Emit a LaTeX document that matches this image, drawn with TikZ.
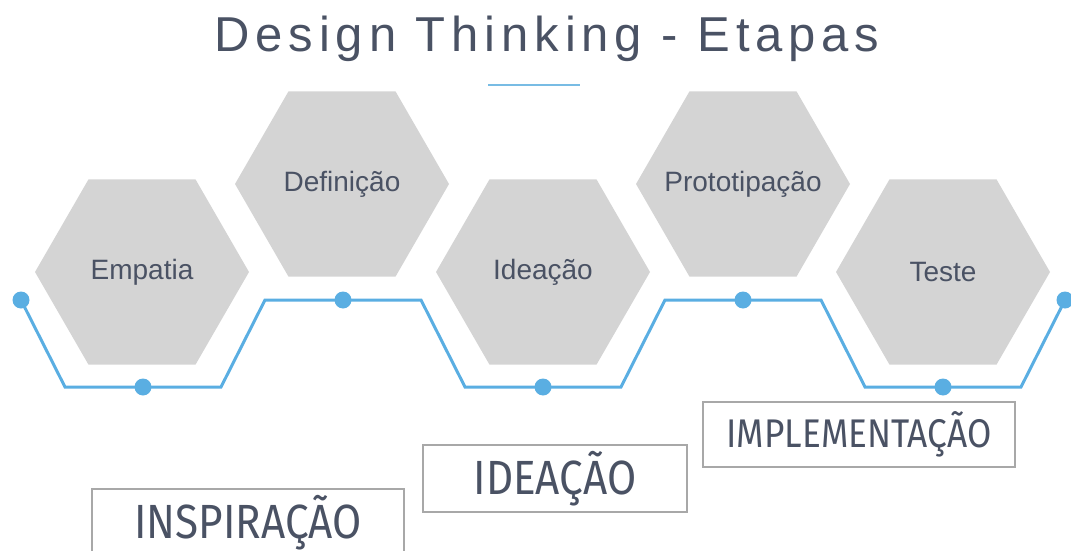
\documentclass[tikz,border=0pt]{standalone}
\usepackage{fontspec}
\setmainfont{Liberation Sans}
\newfontfamily\titlefont[LetterSpace=12]{Liberation Sans}
\newfontfamily\stagefont[FakeStretch=0.88]{Fira Sans}
\usetikzlibrary{shapes.geometric}
\definecolor{lineblue}{RGB}{90,174,226}
\definecolor{ruleblue}{RGB}{120,188,228}
\definecolor{hexgray}{RGB}{212,212,212}
\definecolor{slate}{RGB}{74,82,100}
\definecolor{boxgray}{RGB}{168,168,168}
\tikzset{
  hexa/.style={regular polygon, regular polygon sides=6, minimum size=214pt,
    inner sep=0pt, fill=hexgray,
    label={[text=slate, font=\fontsize{28}{30}\selectfont]center:#1}},
  dot/.style={circle, fill=lineblue, inner sep=0pt, minimum size=17pt},
  track/.style={draw=lineblue, line width=3pt, line join=miter},
  phase/.style={draw=boxgray, line width=2.5pt, text=slate, inner sep=0pt,
    font=\stagefont\fontsize{48}{50}\selectfont}
}
\begin{document}
\begin{tikzpicture}[x=1pt,y=-1pt]
 \useasboundingbox (0,0) rectangle (1071,551);
 \node (title) [anchor=base, text=slate, font=\titlefont\fontsize{49}{52}\selectfont] at (547,52) {Design Thinking - Etapas};
 \coordinate (ul) at (488,85);
 \draw [ruleblue, line width=2pt] (ul) -- ++(92,0);

 \node (E) [hexa=Empatia] at (142,272) {};
 \node (D) [hexa=Definição] at (342,184) {};
 \node (I) [hexa=Ideação] at (543,272) {};
 \node (P) [hexa=Prototipação] at (743,184) {};
 \node (T) [hexa=Teste] at (943,272) {};

 \node (d0) [dot] at (21,300) {};
 \node (d1) [dot] at (143,387) {};
 \node (d2) [dot] at (343,300) {};
 \node (d3) [dot] at (543,387) {};
 \node (d4) [dot] at (743,300) {};
 \node (d5) [dot] at (943,387) {};
 \node (d6) [dot] at (1065,300) {};
 \path [track] (d0.center) -- ++(44,87) -- (d1.center)
   -- ++(78,0) -- ++(44,-87) -- (d2.center)
   -- ++(78,0) -- ++(44,87) -- (d3.center)
   -- ++(78,0) -- ++(44,-87) -- (d4.center)
   -- ++(78,0) -- ++(44,87) -- (d5.center)
   -- ++(78,0) -- (d6.center);

 \node (insp) [phase, minimum width=312pt, minimum height=67pt] at (248,522.5) {INSPIRAÇÃO};
 \node (idea) [phase, minimum width=264pt, minimum height=67pt] at (555,478.5) {IDEAÇÃO};
 \node (impl) [phase, minimum width=312pt, minimum height=65pt, font=\stagefont\fontsize{40}{42}\selectfont] at (859,434.5) {IMPLEMENTAÇÃO};
\end{tikzpicture}
\end{document}
